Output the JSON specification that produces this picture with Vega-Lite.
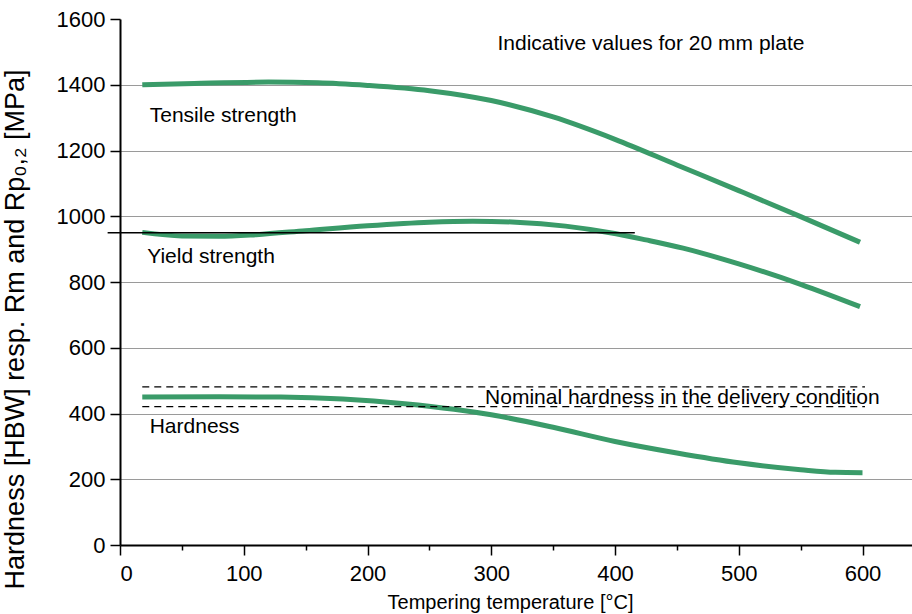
{
  "$schema": "https://vega.github.io/schema/vega-lite/v6.json",
  "width": 792,
  "height": 526,
  "autosize": {"type": "none"},
  "padding": {"left": 120, "top": 19, "right": 0, "bottom": 69},
  "background": "white",
  "config": {
    "view": {"stroke": null},
    "font": "Liberation Sans",
    "axis": {
      "domainColor": "black",
      "domainWidth": 2,
      "tickColor": "black",
      "tickWidth": 1.5,
      "labelColor": "black",
      "titleColor": "black",
      "labelFont": "Liberation Sans",
      "titleFont": "Liberation Sans",
      "labelFontSize": 22,
      "titleFontSize": 21,
      "titleFontWeight": "normal",
      "gridColor": "#9a9a9a",
      "gridWidth": 1
    }
  },
  "datasets": {
    "curves": [
      {"series": "Tensile", "x": 18, "y": 1400},
      {"series": "Tensile", "x": 60, "y": 1404},
      {"series": "Tensile", "x": 120, "y": 1408},
      {"series": "Tensile", "x": 160, "y": 1406},
      {"series": "Tensile", "x": 200, "y": 1398},
      {"series": "Tensile", "x": 250, "y": 1382},
      {"series": "Tensile", "x": 300, "y": 1352},
      {"series": "Tensile", "x": 350, "y": 1302},
      {"series": "Tensile", "x": 400, "y": 1234},
      {"series": "Tensile", "x": 450, "y": 1156},
      {"series": "Tensile", "x": 500, "y": 1078},
      {"series": "Tensile", "x": 550, "y": 999},
      {"series": "Tensile", "x": 598, "y": 921},
      {"series": "Yield", "x": 18, "y": 951},
      {"series": "Yield", "x": 50, "y": 940},
      {"series": "Yield", "x": 80, "y": 939},
      {"series": "Yield", "x": 110, "y": 944},
      {"series": "Yield", "x": 150, "y": 956},
      {"series": "Yield", "x": 200, "y": 971},
      {"series": "Yield", "x": 250, "y": 982},
      {"series": "Yield", "x": 285, "y": 985},
      {"series": "Yield", "x": 320, "y": 982},
      {"series": "Yield", "x": 360, "y": 970},
      {"series": "Yield", "x": 396, "y": 950},
      {"series": "Yield", "x": 425, "y": 928},
      {"series": "Yield", "x": 455, "y": 903},
      {"series": "Yield", "x": 500, "y": 855},
      {"series": "Yield", "x": 550, "y": 793},
      {"series": "Yield", "x": 598, "y": 725},
      {"series": "Hardness", "x": 18, "y": 450},
      {"series": "Hardness", "x": 80, "y": 451},
      {"series": "Hardness", "x": 130, "y": 450},
      {"series": "Hardness", "x": 180, "y": 444},
      {"series": "Hardness", "x": 230, "y": 430},
      {"series": "Hardness", "x": 270, "y": 413},
      {"series": "Hardness", "x": 300, "y": 396},
      {"series": "Hardness", "x": 350, "y": 358},
      {"series": "Hardness", "x": 400, "y": 315},
      {"series": "Hardness", "x": 450, "y": 280},
      {"series": "Hardness", "x": 500, "y": 250},
      {"series": "Hardness", "x": 550, "y": 229},
      {"series": "Hardness", "x": 578, "y": 221},
      {"series": "Hardness", "x": 600, "y": 220}
    ],
    "refs": [
      {"ref": "yield950", "x": -10, "y": 950},
      {"ref": "yield950", "x": 416, "y": 950}
    ],
    "dashed": [
      {"ref": "upper", "x": 18, "y": 481},
      {"ref": "upper", "x": 602, "y": 481},
      {"ref": "lower", "x": 18, "y": 421},
      {"ref": "lower", "x": 602, "y": 421}
    ],
    "labels": [
      {"text": "Tensile strength", "x": 24, "y": 1304},
      {"text": "Yield strength", "x": 22, "y": 876},
      {"text": "Hardness", "x": 24, "y": 359},
      {"text": "Nominal hardness in the delivery condition", "x": 295, "y": 448},
      {"text": "Indicative values for 20 mm plate", "x": 305, "y": 1523}
    ]
  },
  "layer": [
    {
      "mark": {"type": "rule", "color": "black", "strokeWidth": 2},
      "encoding": {"y": {"datum": 1600, "type": "quantitative"}}
    },
    {
      "data": {"name": "curves"},
      "mark": {"type": "line", "interpolate": "monotone", "color": "#3a9b69", "strokeWidth": 5},
      "encoding": {
        "x": {
          "field": "x", "type": "quantitative",
          "scale": {"domain": [0, 640], "nice": false, "zero": false},
          "axis": {
            "title": "Tempering temperature [°C]",
            "titleFontSize": 20,
            "labelFontSize": 22,
            "values": [0, 50, 100, 150, 200, 250, 300, 350, 400, 450, 500, 550, 600],
            "labelExpr": "datum.value % 100 == 0 ? datum.label : ''",
            "format": "d",
            "grid": false,
            "tickSize": {"condition": {"test": "datum.value % 100 == 0", "value": 10}, "value": 5},
            "labelPadding": 8,
            "titleY": 57,
            "titleBaseline": "middle",
            "titleX": 390,
            "titleAlign": "center"
          }
        },
        "y": {
          "field": "y", "type": "quantitative",
          "scale": {"domain": [0, 1600], "nice": false},
          "axis": {
            "title": "Hardness [HBW] resp. Rm and Rp₀,₂ [MPa]",
            "titleFontSize": 27,
            "values": [0, 100, 200, 300, 400, 500, 600, 700, 800, 900, 1000, 1100, 1200, 1300, 1400, 1500, 1600],
            "labelExpr": "datum.value % 200 == 0 ? datum.label : ''",
            "format": "d",
            "grid": true,
            "gridOpacity": {"condition": {"test": "datum.value % 200 == 0 && datum.value > 0 && datum.value < 1600", "value": 1}, "value": 0},
            "tickSize": {"condition": {"test": "datum.value % 200 == 0", "value": 10}, "value": 5},
            "labelPadding": 5,
            "titleAngle": 270,
            "titleX": -105,
            "titleY": 310,
            "titleAlign": "center",
            "titleBaseline": "middle"
          }
        },
        "detail": {"field": "series"}
      }
    },
    {
      "data": {"name": "refs"},
      "mark": {"type": "line", "color": "black", "strokeWidth": 1.5},
      "encoding": {
        "x": {"field": "x", "type": "quantitative"},
        "y": {"field": "y", "type": "quantitative"},
        "detail": {"field": "ref"}
      }
    },
    {
      "data": {"name": "dashed"},
      "mark": {"type": "line", "color": "black", "strokeWidth": 1.3, "strokeDash": [7, 5]},
      "encoding": {
        "x": {"field": "x", "type": "quantitative"},
        "y": {"field": "y", "type": "quantitative"},
        "detail": {"field": "ref"}
      }
    },
    {
      "data": {"name": "labels"},
      "mark": {"type": "text", "align": "left", "baseline": "middle", "fontSize": 21, "font": "Liberation Sans", "color": "black"},
      "encoding": {
        "x": {"field": "x", "type": "quantitative"},
        "y": {"field": "y", "type": "quantitative"},
        "text": {"field": "text"}
      }
    }
  ]
}
